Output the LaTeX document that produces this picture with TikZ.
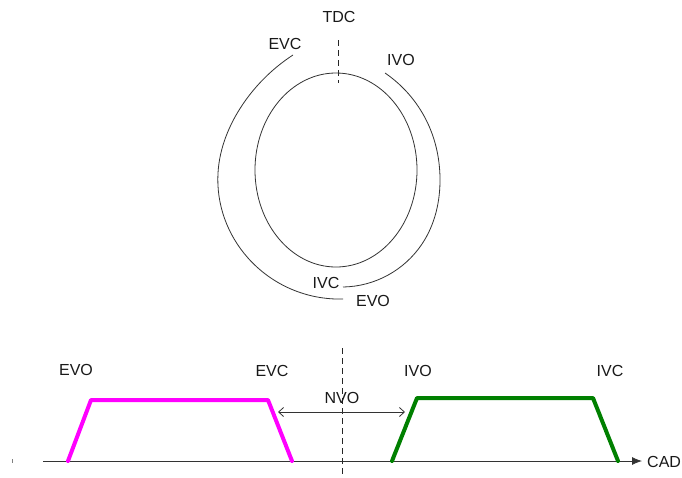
\documentclass[tikz,border=0pt]{standalone}
\usepackage{fontspec}
\setmainfont{Liberation Sans}
\usetikzlibrary{arrows.meta,hobby}
\definecolor{exhaustlift}{RGB}{255,0,255}
\definecolor{intakelift}{RGB}{0,128,0}
\begin{document}
\begin{tikzpicture}[x=1pt,y=-1pt,
  lbl/.style={font=\fontsize{16}{19}\selectfont, inner sep=0pt, text=black!90},
  thin line/.style={draw=black!80, line width=0.8pt},
  dashline/.style={draw=black!85, line width=0.8pt, dash pattern=on 6pt off 4pt},
  lift/.style={line width=4pt, line join=round, line cap=round}]
\useasboundingbox (0,0) rectangle (682,477);
\fill[white] (0,0) rectangle (682,477);

% ---- valve timing circle ----
\node[lbl] (tdc) at (339,17) {TDC};
\node[lbl] (evc1) at (285,44) {EVC};
\node[lbl] (ivo1) at (401,60) {IVO};
\node[lbl] (ivc1) at (326,283) {IVC};
\node[lbl] (evo1) at (373,301) {EVO};

\coordinate (tdctop) at (338,40);
\coordinate (tdcbot) at (338,83);
\draw[dashline] (tdctop) -- (tdcbot);

% inner cycle
\draw[thin line] (336,170) ellipse [x radius=81, y radius=97];

% exhaust event: EVC (top) round the left to EVO (bottom)
\draw[thin line, use Hobby shortcut]
  (293,55) .. (243,104) .. (218,173) .. (248,258) .. (343,299);

% intake event: IVO (top) round the right to IVC (bottom)
\draw[thin line, use Hobby shortcut]
  (385,73) .. (429,126) .. (440,178) .. (422,244) .. (343,287);

% ---- valve lift against crank angle ----
\coordinate (axstart) at (43,461);
\coordinate (axend) at (642,461);
\draw[thin line, -{Latex[length=10pt,width=8pt]}] (axstart) -- (axend);
\node[lbl, anchor=west] (cad) at (647,462) {CAD};
\draw[draw=black!50, line width=0.6pt] (12,459) -- (12,463);

\coordinate (nvotop) at (342,348);
\coordinate (nvobot) at (342,477);
\draw[dashline] (nvotop) -- (nvobot);

% exhaust lift
\draw[lift, exhaustlift] (68,461) -- (91,400) -- (268,400) -- (292,461);
% intake lift
\draw[lift, intakelift] (392,461) -- (417,398) -- (593,398) -- (618,461);

\node[lbl] (evo2) at (76,370) {EVO};
\node[lbl] (evc2) at (272,371) {EVC};
\node[lbl] (ivo2) at (418,371) {IVO};
\node[lbl] (ivc2) at (610,371) {IVC};
\node[lbl] (nvo) at (342,398) {NVO};

\coordinate (nvol) at (278,412);
\coordinate (nvor) at (405,412);
\draw[thin line, {Straight Barb[length=5pt,width=9pt]}-{Straight Barb[length=5pt,width=9pt]}] (nvol) -- (nvor);
\end{tikzpicture}
\end{document}
